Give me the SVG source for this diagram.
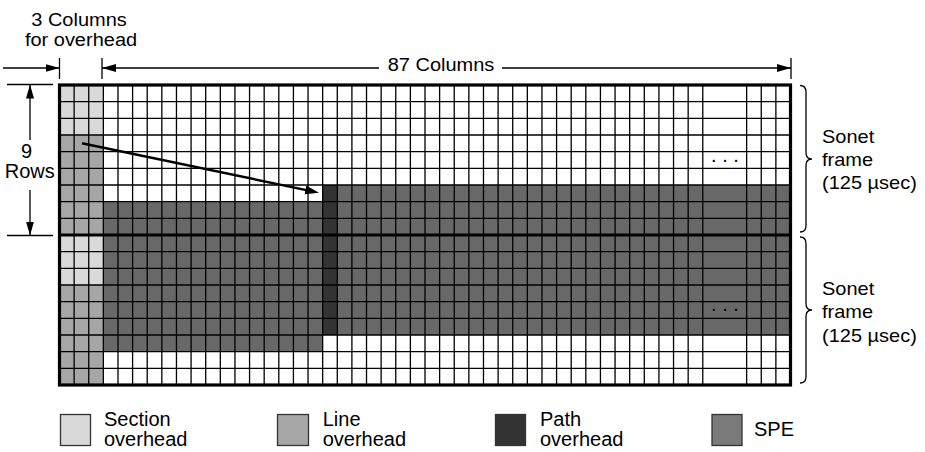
<svg xmlns="http://www.w3.org/2000/svg" width="925" height="452" viewBox="0 0 925 452">
<style>
.t{font-family:"Liberation Sans",Arial,Helvetica,sans-serif;font-size:20px;fill:#000}
.m{text-anchor:middle}
.sec{fill:#d9d9d9}
.lin{fill:#a6a6a6}
.pth{fill:#333333}
.spe{fill:#686868}
.grid{fill:none;stroke:#000;stroke-width:1.3}
.bold{fill:none;stroke:#000;stroke-width:3.2}
.dim{fill:none;stroke:#000;stroke-width:1.3}
.key{stroke:#333;stroke-width:1.3}
</style>
<defs>
<marker id="ah" markerWidth="16" markerHeight="10" refX="14" refY="4" orient="auto" markerUnits="userSpaceOnUse">
<path d="M0,0 L14,4 L0,8 z" fill="#000"/>
</marker>
<marker id="big" markerWidth="16" markerHeight="10" refX="6" refY="4.5" orient="auto" markerUnits="userSpaceOnUse">
<path d="M0,0 L14,4.5 L0,9 z" fill="#000"/>
</marker>
</defs>
<rect width="925" height="452" fill="#fff"/>

<g id="frame-grid">
<rect class="sec" x="59.5" y="85" width="43.86" height="50"/>
<rect class="lin" x="59.5" y="135" width="43.86" height="100"/>
<rect class="sec" x="59.5" y="235" width="43.86" height="50"/>
<rect class="lin" x="59.5" y="285" width="43.86" height="100"/>
<rect class="spe" x="103.36" y="201.67" width="219.3" height="150"/>
<rect class="spe" x="337.28" y="185" width="453.22" height="150"/>
<rect class="pth" x="322.66" y="185" width="14.62" height="150"/>
<path class="grid" d="M74.12 85V385M88.74 85V385M103.36 85V385M117.98 85V385M132.6 85V385M147.22 85V385M161.84 85V385M176.46 85V385M191.08 85V385M205.7 85V385M220.32 85V385M234.94 85V385M249.56 85V385M264.18 85V385M278.8 85V385M293.42 85V385M308.04 85V385M322.66 85V385M337.28 85V385M351.9 85V385M366.52 85V385M381.14 85V385M395.76 85V385M410.38 85V385M425 85V385M439.62 85V385M454.24 85V385M468.86 85V385M483.48 85V385M498.1 85V385M512.72 85V385M527.34 85V385M541.96 85V385M556.58 85V385M571.2 85V385M585.82 85V385M600.44 85V385M615.06 85V385M629.68 85V385M644.3 85V385M658.92 85V385M673.54 85V385M688.16 85V385M702.78 85V385M746.64 85V385M761.26 85V385M775.88 85V385"/>
<path class="grid" d="M59.5 101.67H790.5M59.5 118.33H790.5M59.5 135H790.5M59.5 151.67H790.5M59.5 168.33H790.5M59.5 185H790.5M59.5 201.67H790.5M59.5 218.33H790.5M59.5 251.67H790.5M59.5 268.33H790.5M59.5 285H790.5M59.5 301.67H790.5M59.5 318.33H790.5M59.5 335H790.5M59.5 351.67H790.5M59.5 368.33H790.5"/>
<rect class="bold" x="59.5" y="85" width="731" height="300"/>
<path class="bold" d="M59.5 235H790.5"/>
<text class="t m" x="725" y="161.5">. . .</text>
<text class="t m" x="725" y="311">. . .</text>
</g>

<g id="connectors">
<path d="M82 143.3L311.2 191.1" stroke="#000" stroke-width="2.5" fill="none" marker-end="url(#big)"/>
<path class="dim" d="M3 68H59.5" marker-end="url(#ah)"/>
<path class="dim" d="M59.5 58V79M102 58V79M791 58V79"/>
<path class="dim" d="M379 68H102" marker-end="url(#ah)"/>
<path class="dim" d="M502 68H791" marker-end="url(#ah)"/>
<path class="dim" d="M7 84.5H53M7 235.5H53"/>
<path class="dim" d="M30 140V84.5" marker-end="url(#ah)"/>
<path class="dim" d="M30 190V235.5" marker-end="url(#ah)"/>
<path class="dim" d="M800 85.5Q806 85.5 806 92L806 152.5Q806 159 812 159Q806 159 806 165.5L806 225.5Q806 232 800 232"/>
<path class="dim" d="M800 237Q806 237 806 243.5L806 303.5Q806 310 812 310Q806 310 806 316.5L806 376.5Q806 383 800 383"/>
</g>

<g id="label-overhead">
<text class="t m" transform="translate(79,25.5) scale(1,0.88)">3 Columns</text>
<text class="t m" transform="translate(81,46) scale(1,0.88)">for overhead</text>
</g>
<g id="label-87">
<text class="t m" transform="translate(441,70.7) scale(1,0.88)">87 Columns</text>
</g>
<g id="label-rows">
<text class="t m" x="26.5" y="157.7">9</text>
<text class="t m" x="29.7" y="178.3">Rows</text>
</g>
<g id="label-frame1">
<text class="t" transform="translate(822,143.3) scale(1,0.9)">Sonet</text>
<text class="t" transform="translate(822,166) scale(1,0.9)">frame</text>
<text class="t" transform="translate(822,189) scale(1,0.9)">(125 µsec)</text>
</g>
<g id="label-frame2">
<text class="t" transform="translate(822,295) scale(1,0.9)">Sonet</text>
<text class="t" transform="translate(822,318.3) scale(1,0.9)">frame</text>
<text class="t" transform="translate(822,341.7) scale(1,0.9)">(125 µsec)</text>
</g>

<g id="legend-section">
<rect class="sec key" x="60.5" y="414.5" width="30" height="31"/>
<text class="t" x="104" y="426">Section</text>
<text class="t" x="104" y="446">overhead</text>
</g>
<g id="legend-line">
<rect class="lin key" x="277.5" y="414.5" width="31" height="31"/>
<text class="t" x="322.7" y="426">Line</text>
<text class="t" x="322.7" y="446">overhead</text>
</g>
<g id="legend-path">
<rect class="pth key" x="495.5" y="414.5" width="30" height="31"/>
<text class="t" x="540" y="426">Path</text>
<text class="t" x="540" y="446">overhead</text>
</g>
<g id="legend-spe">
<rect class="key" fill="#7a7a7a" x="712" y="414.5" width="30" height="31"/>
<text class="t" x="754" y="436">SPE</text>
</g>
</svg>
